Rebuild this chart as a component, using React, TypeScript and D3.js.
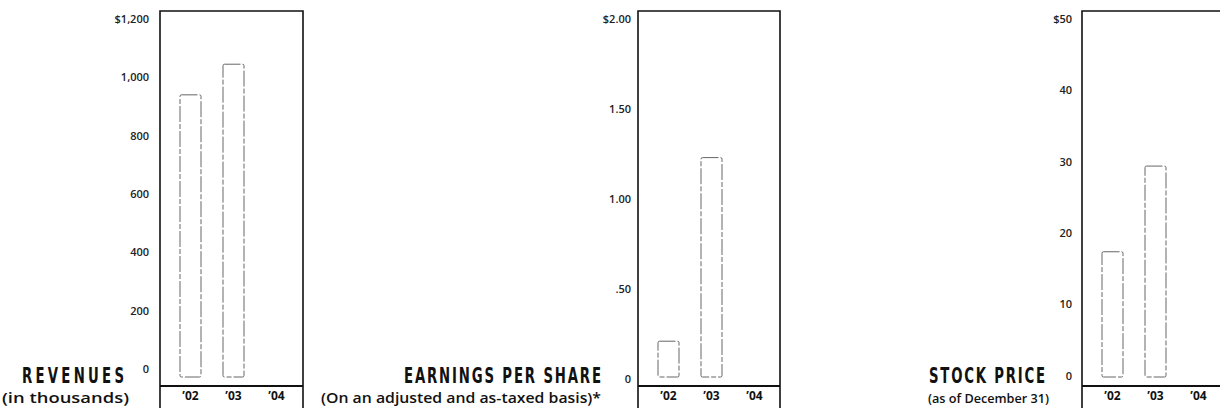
import React from "react";
import * as d3 from "d3";

// ---- data ----
const years = ["’02", "’03", "’04"];
const revenues = [940, 1045];
const eps = [0.21, 1.23];
const stockPrice = [17.4, 29.4];

const revTicks = [0, 200, 400, 600, 800, 1000, 1200];
const revTickLabels = ["0", "200", "400", "600", "800", "1,000", "$1,200"];
const epsTicks = [0, 0.5, 1, 1.5, 2];
const epsTickLabels = ["0", ".50", "1.00", "1.50", "$2.00"];
const stockTicks = [0, 10, 20, 30, 40, 50];
const stockTickLabels = ["0", "10", "20", "30", "40", "$50"];

const titles = ["REVENUES", "EARNINGS PER SHARE", "STOCK PRICE"];
const subtitles = ["(in thousands)", "(On an adjusted and as-taxed basis)*", "(as of December 31)"];

// ---- layout ----
const W = 1220;
const H = 408;
const TOP = 11;
const SEP = 386;
const BAR_BOTTOM = 377;
const SX = 0.72; // horizontal squeeze for the condensed titles

const panels = [
  {
    values: revenues, ticks: revTicks, labels: revTickLabels, max: 1200, zeroY: 369,
    boxL: 160, boxR: 303, tickX: 149,
    title: titles[0], sub: subtitles[0], titleR: 124, titleW: 102, subR: 129, subW: 127, subSize: 14.5,
  },
  {
    values: eps, ticks: epsTicks, labels: epsTickLabels, max: 2, zeroY: 379,
    boxL: 638, boxR: 780, tickX: 631,
    title: titles[1], sub: subtitles[1], titleR: 601, titleW: 197, subR: 601, subW: 280, subSize: 14,
  },
  {
    values: stockPrice, ticks: stockTicks, labels: stockTickLabels, max: 50, zeroY: 376,
    boxL: 1082, boxR: 1225, tickX: 1072,
    title: titles[2], sub: subtitles[2], titleR: 1045, titleW: 116, subR: 1049, subW: 121, subSize: 12,
  },
];

function Panel({ p }: { p: typeof panels[number] }) {
  const y = d3.scaleLinear().domain([0, p.max]).range([p.zeroY, 19]);
  const x = d3.scalePoint<string>().domain(years).range([p.boxL + 30.5, p.boxL + 30.5 + 86]);
  const bw = 21;
  return (
    <g>
      {/* frame */}
      <path
        d={`M${p.boxL},${H} V${TOP} H${p.boxR} V${H}`}
        fill="none"
        stroke="#111"
        strokeWidth={1.6}
      />
      <line x1={p.boxL} x2={p.boxR} y1={SEP} y2={SEP} stroke="#111" strokeWidth={2} />
      {/* bars */}
      {p.values.map((v, i) => (
        <rect
          key={i}
          x={(x(years[i]) as number) - bw / 2}
          y={y(v)}
          width={bw}
          height={BAR_BOTTOM - y(v)}
          rx={1.5}
          fill="#fff"
          stroke="#666"
          strokeWidth={1}
          strokeDasharray="16 2 5 2"
        />
      ))}
      {/* y tick labels */}
      {p.ticks.map((t, i) => (
        <text
          key={t}
          x={p.tickX}
          y={y(t)}
          dy="0.35em"
          textAnchor="end"
          fontFamily="'Open Sans', sans-serif"
          fontWeight={600}
          fontSize={11}
          fill="#222"
        >
          {p.labels[i]}
        </text>
      ))}
      {/* x labels */}
      {years.map((yr) => (
        <text
          key={yr}
          x={x(yr) as number}
          y={400}
          textAnchor="middle"
          fontFamily="'Open Sans', sans-serif"
          fontWeight={700}
          fontSize={12}
          fill="#111"
        >
          {yr}
        </text>
      ))}
      {/* title */}
      <g transform={`translate(${p.titleR - p.titleW},383) scale(${SX},1)`}>
        <text
          x={0}
          y={0}
          textLength={p.titleW / SX}
          lengthAdjust="spacing"
          fontFamily="'DejaVu Sans Condensed', 'DejaVu Sans', sans-serif"
          fontWeight={700}
          fontSize={20.5}
          fill="#111"
        >
          {p.title}
        </text>
      </g>
      <text
        x={p.subR - p.subW}
        y={403}
        textLength={p.subW}
        lengthAdjust="spacingAndGlyphs"
        fontFamily="'Open Sans', sans-serif"
        fontWeight={600}
        fontSize={p.subSize}
        fill="#111"
      >
        {p.sub}
      </text>
    </g>
  );
}

export default function App() {
  return (
    <svg
      width={W}
      height={H}
      viewBox={`0 0 ${W} ${H}`}
      style={{ position: "absolute", left: 0, top: 0, background: "#fff" }}
    >
      <rect width={W} height={H} fill="#fff" />
      {panels.map((p, i) => (
        <Panel key={i} p={p} />
      ))}
    </svg>
  );
}
